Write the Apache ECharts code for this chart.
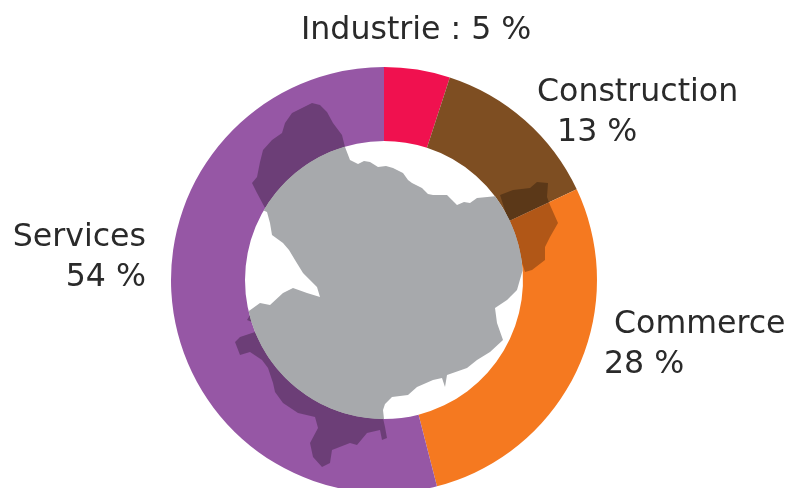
<!DOCTYPE html>
<html>
<head>
<meta charset="utf-8">
<style>
html,body{margin:0;padding:0;background:#fff}
#container{width:790px;height:488px}
</style>
<script src="https://cdn.jsdelivr.net/npm/echarts@6/dist/echarts.min.js"></script>
</head>
<body>
<div id="container"></div>
<script>
var sectors = ['Industrie','Construction','Commerce','Services'];
var shares = [5,13,28,54];
var sectorColors = ['#f0114f','#7e4e22','#f57920','#9657a5'];
var labelTexts = ['Industrie : 5 %','Construction\n  13 %',' Commerce\n28 %','Services\n54 %'];
var labelSpots = [[301,31],[537,113],[604,345],[146,258]];
var labelAligns = ['left','left','left','right'];

var cx = 384, cy = 280, rInner = 139, rOuter = 213;

/* inner edge of the ring, the map is cut along it */
function arc(from,to){
	var pts = [], n = Math.ceil(Math.abs(to-from)/4);
	for(var i = 0;i <= n;i++){
		var a = (from+(to-from)*i/n)*Math.PI/180;
		pts.push([cx+rInner*Math.cos(a),cy+rInner*Math.sin(a)]);
	}
	return pts;
}

var northCoast = [[345,147],[350,160],[358,164],[364,161],[370,162],[378,167],[386,166],[393,168],[403,173],[408,180],[412,183],[422,188],[428,194],[433,195],[447,195],[452,200],[457,205],[464,202],[470,203],[477,198]];
var eastCoast = [[517,290],[507,300],[495,308],[497,323],[503,340],[490,352],[477,360],[467,368],[447,375],[445,387],[442,378],[433,380],[417,387],[408,395],[392,397],[385,404],[383,410]];
var westCoast = [[260,303],[270,305],[283,293],[293,288],[307,293],[320,297],[317,287],[303,273],[295,260],[289,250],[283,243],[272,235],[270,223],[267,212]];
var mapOutline = northCoast.concat(arc(-37,-4),eastCoast,arc(90,167),westCoast,arc(210,254));

var darkAreas = [
	[[345,147],[342,135],[333,123],[327,112],[320,105],[312,103],[302,108],[292,113],[285,123],[282,133],[272,140],[263,150],[260,162],[257,177],[252,183],[257,193],[265,208]],
	[[500,195],[513,190],[530,188],[537,182],[548,183],[547,197],[550,205],[558,223],[550,237],[545,247],[545,260],[532,270],[525,272]],
	[[252,322],[247,320],[250,315]],
	[[255,332],[240,337],[235,342],[240,355],[250,352],[262,360],[268,368],[273,383],[275,392],[283,403],[298,413],[315,417],[318,428],[310,443],[313,457],[322,467],[330,463],[332,450],[350,443],[357,445],[367,433],[380,430],[382,440],[387,438],[385,427],[383,418]]
];

var mapShapes = [];
for(var i = 0;i < darkAreas.length;i++){
	mapShapes.push({type:'polygon',z:10,shape:{points:darkAreas[i]},style:{fill:'rgba(0,0,0,0.28)'}});
}
mapShapes.push({type:'polygon',z:11,shape:{points:mapOutline},style:{fill:'#a7a9ac'}});

var pieData = [];
for(var k = 0;k < sectors.length;k++){
	pieData.push({name:sectors[k],value:shares[k],itemStyle:{color:sectorColors[k]}});
}

var myChart = echarts.init(document.getElementById('container'));
myChart.setOption({
	backgroundColor:'#fff',
	animation:false,
	graphic:{elements:mapShapes},
	series:[{
		type:'pie',
		center:[cx,cy],
		radius:[rInner,rOuter],
		startAngle:90,
		silent:true,
		avoidLabelOverlap:false,
		labelLine:{show:false},
		label:{
			show:true,
			position:'outside',
			fontFamily:'DejaVu Sans',
			fontSize:31.6,
			lineHeight:40,
			color:'#2a2a2a',
			formatter:function(p){return labelTexts[p.dataIndex];}
		},
		labelLayout:function(p){
			return {x:labelSpots[p.dataIndex][0],y:labelSpots[p.dataIndex][1],align:labelAligns[p.dataIndex],verticalAlign:'middle'};
		},
		data:pieData
	}]
});
</script>
</body>
</html>
